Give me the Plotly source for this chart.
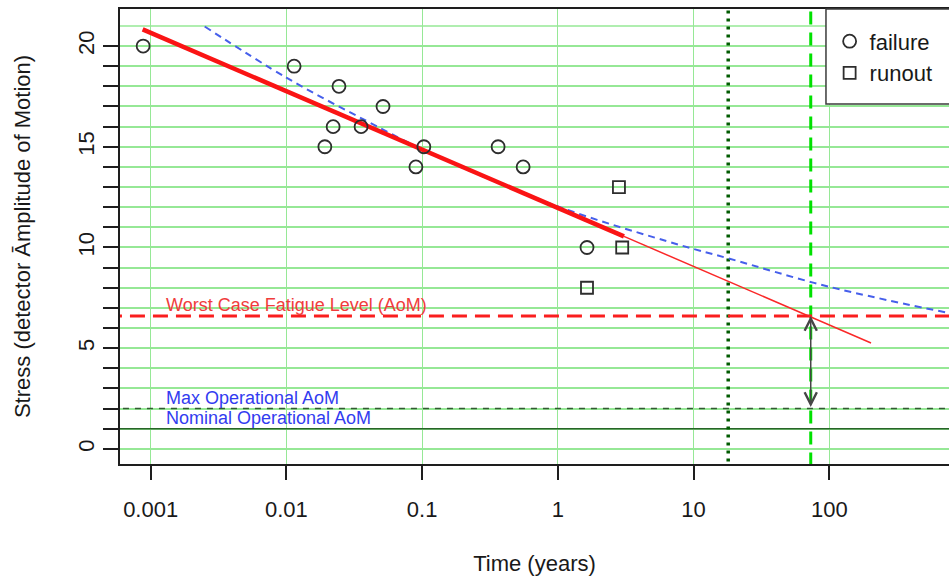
import numpy as np
import plotly.graph_objects as go

# ---------------- data ----------------
fail_x = [0.00088, 0.0114, 0.0244, 0.0515, 0.0221, 0.0355, 0.0192, 0.103, 0.090, 0.363, 0.555, 1.64]
fail_y = [20, 19, 18, 17, 16, 16, 15, 15, 14, 15, 14, 10]
runout_x = [2.82, 2.98, 1.64]
runout_y = [13, 10, 8]

fit_x = [0.000873, 3.07]
fit_y = [20.83, 10.55]
extrap_x = [3.07, 203]
extrap_y = [10.55, 5.26]

blue_x = [0.0025, 0.01, 0.039, 0.114, 0.98, 7.94, 18.0, 101, 1000]
blue_y = [20.97, 18.43, 16.28, 14.70, 12.06, 10.12, 9.46, 8.04, 6.58]

worst_case = 6.6
max_op = 2
nominal_op = 1
t_dotted = 18.0
t_dashed = 73.0

x_tickvals = [0.001, 0.01, 0.1, 1, 10, 100]
x_ticktext = ["0.001", "0.01", "0.1", "1", "10", "100"]
y_tickvals = list(range(0, 21))
y_ticktext = [str(v) if v % 5 == 0 else "" for v in y_tickvals]
extra_grid_y = [21]

FONT = "Liberation Sans, Arial, sans-serif"
GRID = "rgb(150,232,150)"
XR = [-3.226, 2.882]
YR = [-0.75, 21.84]
XLO, XHI = 1e-4, 1e4
YLO, YHI = -5, 30

fig = go.Figure()

# extra gridline
for g in extra_grid_y:
    fig.add_trace(go.Scatter(x=[XLO, XHI], y=[g, g], mode="lines",
                             line=dict(color=GRID, width=1.5), showlegend=False, hoverinfo="skip"))

# horizontal reference lines
fig.add_trace(go.Scatter(x=[XLO, XHI], y=[nominal_op, nominal_op], mode="lines",
                         line=dict(color="rgb(40,100,40)", width=1.5), showlegend=False))
fig.add_trace(go.Scatter(x=[XLO, XHI], y=[max_op, max_op], mode="lines",
                         line=dict(color="rgb(50,90,50)", width=1.5, dash="6px,6px"), showlegend=False))

# vertical reference lines
fig.add_trace(go.Scatter(x=[t_dotted, t_dotted], y=[YLO, YHI], mode="lines",
                         line=dict(color="rgb(0,90,0)", width=3.5, dash="3px,5px"), showlegend=False))
fig.add_trace(go.Scatter(x=[t_dashed, t_dashed], y=[YLO, YHI], mode="lines",
                         line=dict(color="rgb(0,225,0)", width=3, dash="13px,8px"), showlegend=False))

# worst case fatigue level
fig.add_trace(go.Scatter(x=[XLO, XHI], y=[worst_case, worst_case], mode="lines",
                         line=dict(color="rgb(250,30,30)", width=3, dash="15px,8px"), showlegend=False))

# blue dashed curve
fig.add_trace(go.Scatter(x=blue_x, y=blue_y, mode="lines", line_shape="spline",
                         line=dict(color="rgb(70,95,235)", width=2, dash="7px,5px"), showlegend=False))

# red fit line (thick) and extrapolation (thin)
fig.add_trace(go.Scatter(x=extrap_x, y=extrap_y, mode="lines",
                         line=dict(color="rgb(250,40,40)", width=1.5), showlegend=False))
fig.add_trace(go.Scatter(x=fit_x, y=fit_y, mode="lines",
                         line=dict(color="rgb(250,20,20)", width=4.5), showlegend=False))

# points
fig.add_trace(go.Scatter(x=fail_x, y=fail_y, mode="markers", name="failure",
                         marker=dict(symbol="circle-open", size=13, color="rgb(45,45,45)",
                                     line=dict(width=1.8))))
fig.add_trace(go.Scatter(x=runout_x, y=runout_y, mode="markers", name="runout",
                         marker=dict(symbol="square-open", size=12, color="rgb(45,45,45)",
                                     line=dict(width=1.8))))

annotations = [
    dict(x=np.log10(0.00126), y=7.15, xref="x", yref="y", text="Worst Case Fatigue Level (AoM)",
         showarrow=False, xanchor="left", yanchor="middle",
         font=dict(family=FONT, size=18, color="rgb(240,60,60)")),
    dict(x=np.log10(0.00126), y=2.53, xref="x", yref="y", text="Max Operational AoM",
         showarrow=False, xanchor="left", yanchor="middle",
         font=dict(family=FONT, size=18, color="rgb(50,60,240)")),
    dict(x=np.log10(0.00126), y=1.54, xref="x", yref="y", text="Nominal Operational AoM",
         showarrow=False, xanchor="left", yanchor="middle",
         font=dict(family=FONT, size=18, color="rgb(50,60,240)")),
    # double arrow
    dict(x=np.log10(t_dashed), y=worst_case, xref="x", yref="y",
         ax=np.log10(t_dashed), ay=max_op, axref="x", ayref="y",
         showarrow=True, arrowhead=5, startarrowhead=5, arrowside="end+start",
         arrowsize=1.6, startarrowsize=1.6, arrowwidth=1.5, arrowcolor="rgb(70,70,70)", text=""),
]

shapes = [
    dict(type="rect", xref="paper", yref="paper", x0=0.8516, x1=1.2, y0=0.791, y1=1.0,
         line=dict(color="rgb(60,60,60)", width=1.5), fillcolor="white", layer="above"),
]

fig.update_layout(
    width=949, height=576,
    margin=dict(l=120, r=0, t=9, b=112),
    paper_bgcolor="white", plot_bgcolor="white",
    font=dict(family=FONT, size=22, color="rgb(25,25,25)"),
    showlegend=True,
    legend=dict(x=0.856, y=0.975, xanchor="left", yanchor="top",
                bgcolor="rgba(0,0,0,0)", borderwidth=0,
                font=dict(family=FONT, size=22, color="rgb(25,25,25)")),
    annotations=annotations,
    shapes=shapes,
    xaxis=dict(type="log", range=XR, tickvals=x_tickvals, ticktext=x_ticktext,
               showgrid=True, gridcolor=GRID, gridwidth=1, zeroline=False,
               showline=True, linecolor="rgb(30,30,30)", linewidth=2, mirror=True,
               ticks="outside", ticklen=14, tickwidth=2, tickcolor="rgb(30,30,30)",
               ticklabelstandoff=11,
               title=dict(text="Time (years)", standoff=36,
                          font=dict(family=FONT, size=22, color="rgb(25,25,25)"))),
    yaxis=dict(range=YR, tickvals=y_tickvals, ticktext=y_ticktext, tickangle=-90,
               showgrid=True, gridcolor=GRID, gridwidth=1.5, zeroline=False,
               showline=True, linecolor="rgb(30,30,30)", linewidth=2, mirror=False,
               ticks="outside", ticklen=15, tickwidth=2, tickcolor="rgb(30,30,30)",
               title=dict(text="Stress (detector Āmplitude of Motion)", standoff=38,
                          font=dict(family=FONT, size=22, color="rgb(25,25,25)"))),
)

fig.write_html("out.html")
